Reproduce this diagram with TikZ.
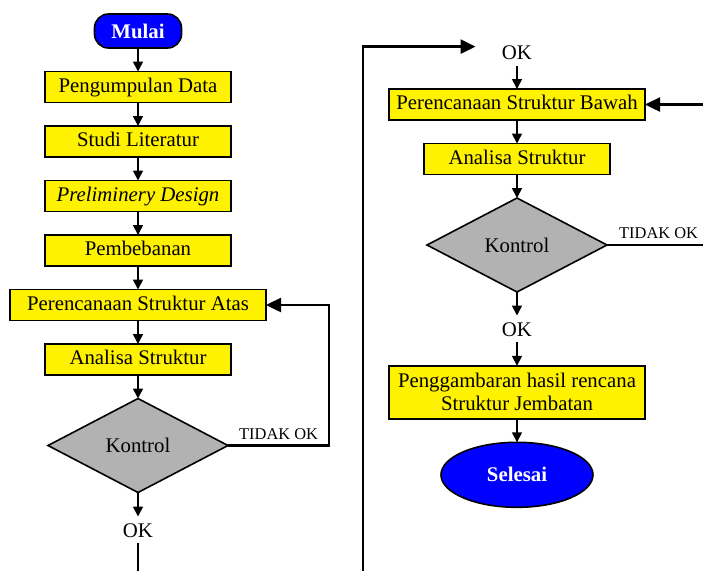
\documentclass[tikz,border=0pt]{standalone}
\usepackage{fontspec}
\setmainfont{Liberation Serif}
\usetikzlibrary{positioning,calc,arrows.meta,shapes.geometric}
\tikzset{kotak/.style={draw, line width=0.8pt, fill=yellow, minimum width=93pt, inner sep=1pt, outer sep=0pt, align=center}}
\tikzset{proses/.style={kotak, minimum height=15.5pt, text height=0.72em, text depth=0.2em}}
\tikzset{lebar/.style={minimum width=128pt}}
\tikzset{terminal/.style={draw, line width=0.8pt, outer sep=0pt, fill=blue, text=white, font=\fontsize{10.4}{11.5}\selectfont\bfseries}}
\tikzset{putusan/.style={diamond, draw, line width=0.8pt, outer sep=0pt, fill=black!30, minimum width=90pt, minimum height=47pt, inner sep=0pt}}
\tikzset{oklabel/.style={inner sep=0pt, minimum height=13pt, text height=0.72em, text depth=0pt}}
\tikzset{tidak/.style={inner sep=0pt, font=\fontsize{8.2}{9}\selectfont, anchor=south west}}
\tikzset{arr1/.style={draw, line width=0.8pt, -{Triangle[length=5pt, width=5pt]}}}
\tikzset{arr2/.style={draw, line width=1.2pt, -{Triangle[length=7.5pt, width=7pt]}}}

\begin{document}
\begin{tikzpicture}[x=0.5pt, y=-0.5pt, font=\fontsize{10.4}{11.5}\selectfont, node distance=11.75pt]
	\useasboundingbox (0,0) rectangle (703,570);
	\clip (0,0) rectangle (703,570);
	% kolom kiri
	\node[terminal, rounded corners=7pt, minimum width=43.5pt, minimum height=17pt] (mulai) at (138,31) {Mulai};
	\node[proses, below=of mulai] (data) {Pengumpulan Data};
	\node[proses, below=of data] (studi) {Studi Literatur};
	\node[proses, below=of studi] (prelim) {\itshape Preliminery Design};
	\node[proses, below=of prelim] (beban) {Pembebanan};
	\node[proses, lebar, below=of beban] (atas) {Perencanaan Struktur Atas};
	\node[proses, below=of atas] (analisa1) {Analisa Struktur};
	\node[putusan, below=of analisa1] (kontrol1) {Kontrol};
	\node[oklabel, below=12pt of kontrol1] (ok1) {OK};
	% kolom kanan
	\node[proses, lebar] (bawah) at (517,104.5) {Perencanaan Struktur Bawah};
	\node[oklabel, above=of bawah] (ok2) {OK};
	\node[proses, below=of bawah] (analisa2) {Analisa Struktur};
	\node[putusan, below=of analisa2] (kontrol2) {Kontrol};
	\node[oklabel, below=of kontrol2] (ok3) {OK};
	\node[kotak, lebar, minimum height=26.5pt, below=of ok3] (gambar) {Penggambaran hasil rencana\\Struktur Jembatan};
	\node[terminal, ellipse, minimum width=76pt, minimum height=32.5pt, below=of gambar] (selesai) {Selesai};
%
	\draw[arr1] (mulai) -- (data);
	\draw[arr1] (data) -- (studi);
	\draw[arr1] (studi) -- (prelim);
	\draw[arr1] (prelim) -- (beban);
	\draw[arr1] (beban) -- (atas);
	\draw[arr1] (atas) -- (analisa1);
	\draw[arr1] (analisa1) -- (kontrol1);
	\draw[arr1] (kontrol1) -- (ok1);
	\draw[arr1] (ok2) -- (bawah);
	\draw[arr1] (bawah) -- (analisa2);
	\draw[arr1] (analisa2) -- (kontrol2);
	\draw[arr1] (kontrol2) -- (ok3);
	\draw[arr1] (ok3) -- (gambar);
	\draw[arr1] (gambar) -- (selesai);
	% umpan balik
	\coordinate (balik1) at (329,0);
	\coordinate (balik2) at (740,0);
	\coordinate (bawahkiri) at (363,600);
	\draw[arr2] (kontrol1.east) -- node[tidak, pos=0, xshift=5pt, yshift=2.5pt]{TIDAK OK} (kontrol1.east -| balik1) |- (atas.east);
	\draw[arr2] (kontrol2.east) -- node[tidak, pos=0, xshift=5.5pt, yshift=2.5pt]{TIDAK OK} (kontrol2.east -| balik2) |- (bawah.east);
	\draw[arr2] (ok1.south) -- (ok1.south |- bawahkiri) -- (bawahkiri) |- ([xshift=-13pt, yshift=2.75pt]ok2.west);
\end{tikzpicture}
\end{document}
